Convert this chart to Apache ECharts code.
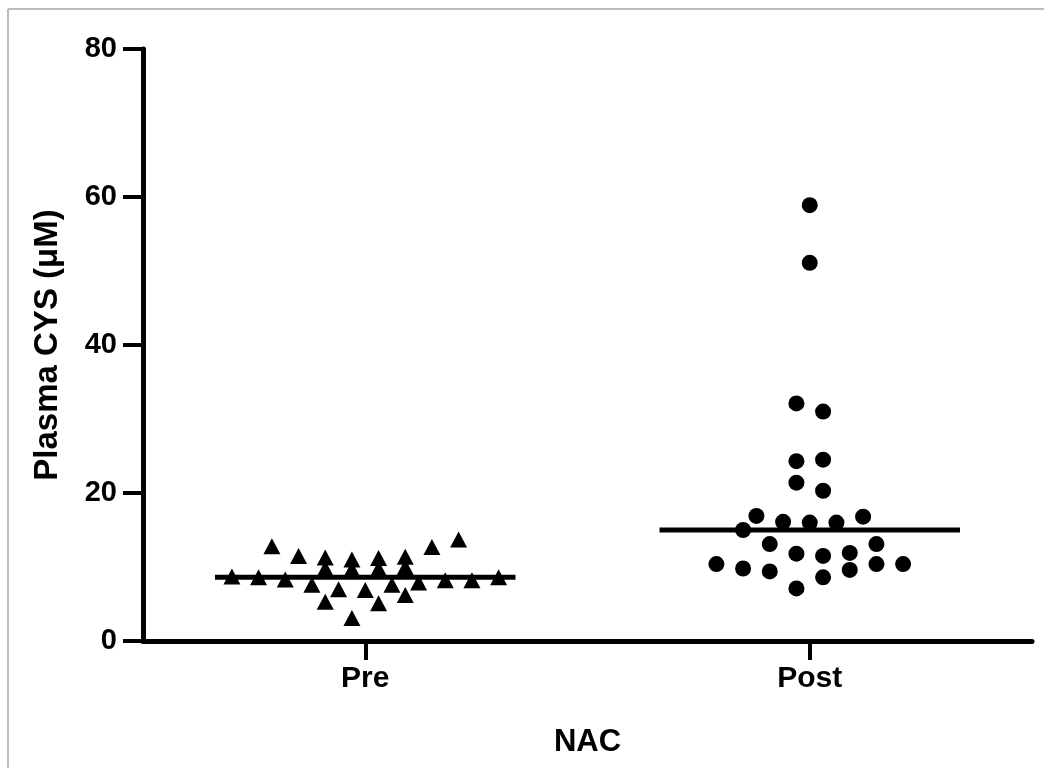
<!DOCTYPE html>
<html>
<head>
<meta charset="utf-8">
<script src="https://cdn.jsdelivr.net/npm/echarts@6/dist/echarts.min.js"></script>
<style>html,body{margin:0;padding:0;background:#fff;}#chart{width:1044px;height:768px;}</style>
</head>
<body>
<div id="chart"></div>
<script>
// ---- data ----
const groups = ['Pre', 'Post'];
const groupPos = [1, 3];
const yTicks = [0, 20, 40, 60, 80];
// Pre NAC values (µM) and their column slot in the scatter
const preValues = [8.7, 8.6, 12.8, 8.3, 11.5, 7.6, 11.3, 9.8, 5.3, 7.0, 11.0, 9.7, 3.1, 6.9, 11.2, 9.8, 5.1, 7.6, 11.4, 10.0, 6.2, 7.9, 12.7, 8.2, 13.7, 8.2, 8.6];
const preSlots  = [-10, -8, -7, -6, -5, -4, -3, -3, -3, -2, -1, -1, -1, 0, 1, 1, 1, 2, 3, 3, 3, 4, 5, 6, 7, 8, 10];
// Post NAC values (µM) and their column slot
const postValues = [10.4, 15.0, 9.8, 16.9, 13.1, 9.4, 16.1, 32.1, 24.3, 21.4, 11.8, 7.1, 58.9, 51.1, 16.0, 31.0, 24.5, 20.3, 11.5, 8.6, 16.0, 11.9, 9.6, 16.8, 13.1, 10.4, 10.4];
const postSlots  = [-7, -5, -5, -4, -3, -3, -2, -1, -1, -1, -1, -1, 0, 0, 0, 1, 1, 1, 1, 1, 2, 3, 3, 4, 5, 5, 7];

// ---- helpers ----
const SLOT = 0.06;      // horizontal spacing of a column slot (axis units)
const HALF = 0.676;     // half-width of the median bar
function median(a) {
  const s = a.slice().sort((x, y) => x - y);
  const n = s.length;
  return n % 2 ? s[(n - 1) / 2] : (s[n / 2 - 1] + s[n / 2]) / 2;
}
function pts(values, slots, center) {
  return values.map((v, i) => [center + slots[i] * SLOT, v]);
}
const preMed = median(preValues);
const postMed = median(postValues);

const FONT = '"Liberation Sans", Arial, sans-serif';
const chart = echarts.init(document.getElementById('chart'), null, {renderer: 'canvas'});
chart.setOption({
  animation: false,
  backgroundColor: '#ffffff',
  graphic: [
    {type: 'line', shape: {x1: 8, y1: 9, x2: 8, y2: 768}, style: {stroke: '#bdbdbd', lineWidth: 2}},
    {type: 'line', shape: {x1: 8, y1: 9, x2: 1044, y2: 9}, style: {stroke: '#bdbdbd', lineWidth: 2}}
  ],
  grid: {left: 143, right: 12, top: 49, bottom: 127, containLabel: false},
  xAxis: {
    type: 'value', min: 0, max: 4,
    name: 'NAC', nameLocation: 'middle', nameGap: 86,
    nameTextStyle: {fontFamily: FONT, fontWeight: 'bold', fontSize: 31, color: '#000'},
    axisLine: {show: true, onZero: false, lineStyle: {color: '#000', width: 5}},
    axisTick: {show: true, customValues: groupPos, length: 19, lineStyle: {color: '#000', width: 4}},
    axisLabel: {
      customValues: groupPos, margin: 23,
      fontFamily: FONT, fontWeight: 'bold', fontSize: 30, color: '#000',
      formatter: v => groups[groupPos.indexOf(v)] || ''
    },
    splitLine: {show: false}
  },
  yAxis: {
    type: 'value', min: yTicks[0], max: yTicks[yTicks.length - 1], interval: 20,
    name: 'Plasma CYS (μM)', nameLocation: 'middle', nameGap: 79,
    nameTextStyle: {fontFamily: FONT, fontWeight: 'bold', fontSize: 33, color: '#000'},
    axisLine: {show: true, lineStyle: {color: '#000', width: 5}},
    axisTick: {show: true, length: 20, lineStyle: {color: '#000', width: 4}},
    axisLabel: {margin: 26, fontFamily: FONT, fontWeight: 'bold', fontSize: 29, color: '#000'},
    splitLine: {show: false}
  },
  series: [
    {
      type: 'scatter', name: 'Pre', symbol: 'triangle', symbolSize: [17, 16],
      itemStyle: {color: '#000', opacity: 1},
      data: pts(preValues, preSlots, groupPos[0])
    },
    {
      type: 'scatter', name: 'Post', symbol: 'circle', symbolSize: 16,
      itemStyle: {color: '#000', opacity: 1},
      data: pts(postValues, postSlots, groupPos[1])
    },
    {
      type: 'line', symbol: 'none', lineStyle: {color: '#000', width: 5}, z: 3,
      data: [[groupPos[0] - HALF, preMed], [groupPos[0] + HALF, preMed]]
    },
    {
      type: 'line', symbol: 'none', lineStyle: {color: '#000', width: 5}, z: 3,
      data: [[groupPos[1] - HALF, postMed], [groupPos[1] + HALF, postMed]]
    }
  ]
});
</script>
</body>
</html>
